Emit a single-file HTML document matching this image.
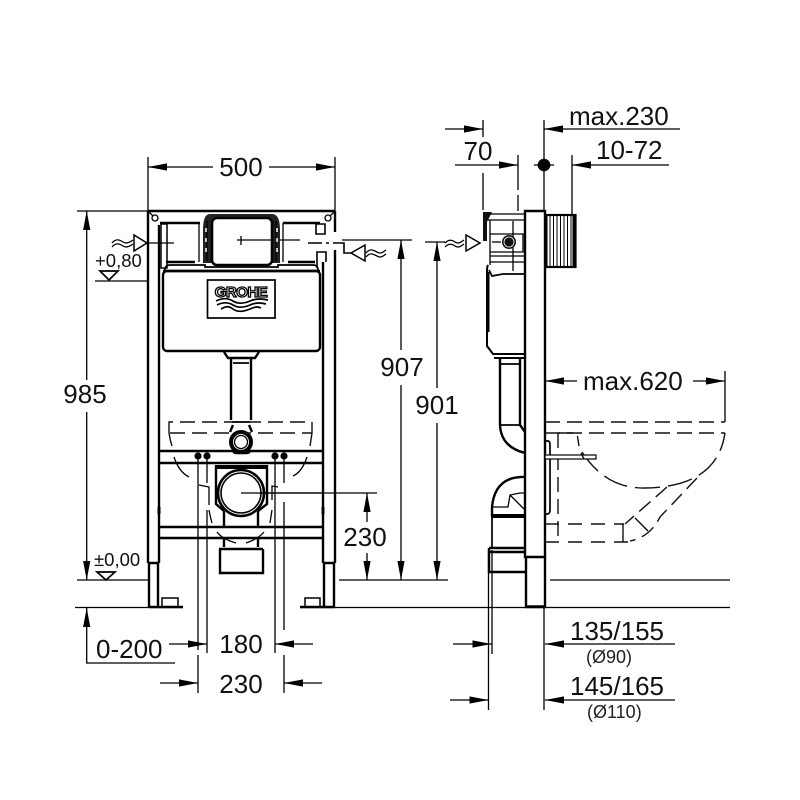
<!DOCTYPE html>
<html><head><meta charset="utf-8"><style>
html,body{margin:0;padding:0;background:#fff;width:800px;height:800px;overflow:hidden}
svg{display:block}
text{font-family:"Liberation Sans",sans-serif;fill:#111}
.t{font-size:26px}.c{text-anchor:middle}
.s{font-size:18.5px}.n{font-size:18px;fill:#222}
.h{stroke:#000;stroke-width:1.3;fill:none}
.b{stroke:#000;stroke-width:2.4;fill:none}
.m{stroke:#000;stroke-width:1.7;fill:none}
.d{stroke:#111;stroke-width:1.4;fill:none;stroke-dasharray:15 7}
</style></head><body>
<svg width="800" height="800" viewBox="0 0 800 800" xmlns="http://www.w3.org/2000/svg">
<defs><marker id="a" markerUnits="userSpaceOnUse" markerWidth="20" markerHeight="8" refX="19" refY="4" orient="auto"><path d="M19,4 L0,0.4 V7.6 Z" fill="#000"/></marker></defs>

<!-- LEFT dims -->
<g class="h">
<path d="M148,157V211M335,157V211M77,211H148M77,580H148M339,580H448M75,607.5H183M300,607.5H730M550,580H730"/>
<line x1="213" y1="167" x2="148" y2="167" marker-end="url(#a)"/><line x1="269" y1="167" x2="335" y2="167" marker-end="url(#a)"/>
<line x1="86.7" y1="380" x2="86.7" y2="211" marker-end="url(#a)"/><line x1="86.7" y1="412" x2="86.7" y2="580" marker-end="url(#a)"/>
<line x1="401" y1="350" x2="401" y2="240" marker-end="url(#a)"/><line x1="401" y1="385" x2="401" y2="580" marker-end="url(#a)"/>
<line x1="437" y1="388" x2="437" y2="242" marker-end="url(#a)"/><line x1="437" y1="423" x2="437" y2="580" marker-end="url(#a)"/>
<path d="M342,240H412M425,242H445M241,493H377"/>
<line x1="367" y1="522" x2="367" y2="493" marker-end="url(#a)"/><line x1="367" y1="553" x2="367" y2="580" marker-end="url(#a)"/>
<path d="M175,663H86.7V640"/><line x1="86.7" y1="640" x2="86.7" y2="608" marker-end="url(#a)"/>
<line x1="169" y1="644" x2="207" y2="644" marker-end="url(#a)"/><line x1="313" y1="644" x2="275" y2="644" marker-end="url(#a)"/>
<line x1="160" y1="683" x2="198" y2="683" marker-end="url(#a)"/><line x1="322" y1="683" x2="284" y2="683" marker-end="url(#a)"/>
<path d="M198,456V650M198,655V693M207,456V483M207,510V653M275,456V653M284,456V483M284,502V630M284,655V693"/>
<path d="M95,281H147M147,243H174M236,240H245M241,236V245M249,240H300"/>
</g>
<text class="t c" x="241" y="176">500</text>
<text class="t c" x="85" y="403">985</text>
<text class="t c" x="402" y="376">907</text>
<text class="t c" x="437" y="414">901</text>
<text class="t c" x="365" y="546">230</text>
<text class="t" x="96" y="658">0-200</text>
<text class="t c" x="241" y="653">180</text>
<text class="t c" x="241" y="693">230</text>
<text class="s" x="95" y="267">+0,80</text>
<text class="s" x="94" y="566">±0,00</text>
<path class="m" d="M100,271H118L109,280Z"/><path class="m" d="M97,572H115L106,580Z"/>
<!-- inlet symbols -->
<path d="M134,235V251L147,243Z" fill="#fff" stroke="#000" stroke-width="1.5"/>
<path d="M365,245V261L351,253Z" fill="#fff" stroke="#000" stroke-width="1.5"/>
<path class="h" d="M112,243c4,-5 8,-3 11,-1c3,2 6,1 10,-2M112,247c4,-5 8,-3 11,-1c3,2 6,1 10,-2M366,253c4,-5 7,-3 11,-1c3,2 5,1 9,-2M366,257c4,-5 7,-3 11,-1c3,2 5,1 9,-2"/>
<path class="b" style="stroke-width:1.6" d="M308,243H322M326,243H329M333,243H344V253H351"/>
<!-- FRAME -->
<g class="b">
<path d="M148,211H335M148,211V563M159,225V563M323,262V563M335,211V232M335,250V563"/>
<path d="M148,563H158V607M149,563V607M323,563H335M324,563V607M334,563V607"/>
<path d="M160,223H200M283,223H320M195,262H166M288,262H315"/>
<path d="M149,607H183M300,607H335" stroke-width="2.6"/>
<rect x="161" y="224" width="6" height="44" stroke-width="1.5"/>
<path d="M316,224h9v10h-9z" stroke-width="1.6"/>
<path d="M317,268V252H326V262" stroke-width="1.6"/>
<path d="M162,598H178V607H162Z" stroke-width="1.5"/><path d="M305,598H320V607H305Z" stroke-width="1.5"/>
</g>
<circle cx="155" cy="218" r="3" class="h"/><circle cx="328" cy="218" r="3" class="h"/>
<path class="h" d="M149,212L153,216M334,212L330,216"/>
<!-- plate -->
<path d="M203,263V230Q203,214 210,214H272Q280,214 280,230V263H272V222H212V263Z" fill="#222"/>
<rect x="212" y="218" width="60" height="47" rx="5" fill="#fff" stroke="#000" stroke-width="2.6"/>
<path class="h" d="M199,223V262M283,223V262M207,221V261M276,221V261"/>
<path d="M206,228v26M277,228v26" stroke="#fff" stroke-width="1.5" stroke-dasharray="4 6"/>
<path class="h" d="M237,240H272M241,236V245"/>
<path class="m" d="M165,270Q165,265 170,265H205V267H278V265H313Q318,265 318,270"/>
<!-- tank -->
<rect x="163" y="271" width="157" height="80" rx="4" class="b" fill="#fff" stroke-width="2.4"/>
<path class="b" d="M163,271H320" stroke-width="2.6"/>
<rect x="207.500" y="280" width="67.500" height="38" class="m"/>
<text x="241" y="297" text-anchor="middle" style="font-family:'Liberation Sans',sans-serif;font-size:15px;font-weight:bold;fill:#fff;stroke:#000;stroke-width:1.3;letter-spacing:-0.5px">GROHE</text>
<path class="m" d="M216,301c6,-3 12,-3 17,0s10,3 17,0s14,-2 18,-1M217,305c6,-3 11,-3 16,0s10,3 17,0s12,-2 16,-1M221,309c5,-3 8,-3 12,0s10,3 17,0s8,-2 11,-1" stroke-width="1.5"/>
<path class="b" d="M224,352L228,358H255L259,352"/>
<!-- pipe -->
<path class="b" d="M231,358V420M251,358V420" stroke-width="2.5"/>
<path class="m" d="M233,363H249M232,422H250"/>
<circle cx="241" cy="442" r="10" fill="#fff" stroke="#000" stroke-width="4"/>
<circle cx="241" cy="442" r="6.500" class="h"/>
<path class="b" d="M233,425L230,432M249,425L252,432M233,452L236,453H247L250,452"/>
<!-- dashed -->
<path class="d" d="M169,433V422H312V433"/><path class="d" d="M170,433H312"/>
<path class="d" d="M169,433Q170,440 172,446"/><path class="d" d="M312,433Q311,440 310,446"/>
<path class="h" d="M174,457Q179,472 189,477M307,457Q302,472 293,476M199,485L209,487V505M278,487L272,486V500M209,510Q210,516 212,523M272,510Q271,516 270,523M217,532Q222,539 236,543M264,532Q258,539 246,543"/>
<!-- bars -->
<path class="b" d="M159,451H323M159,463H323M159,527H323M159,538H323"/>
<g fill="#000"><circle cx="198" cy="456" r="3.600"/><circle cx="207" cy="456" r="3.600"/><circle cx="275" cy="456" r="3.600"/><circle cx="284" cy="456" r="3.600"/></g>
<!-- drain -->
<path class="b" d="M216,465V504L224,511M267,465V504L258,511" stroke-width="2.5"/>
<path d="M216,465H267V469H216Z" fill="#000"/>
<path class="b" d="M224,511V527M258,511V527M224,538V547M258,538V547" stroke-width="1.8"/>
<circle cx="241" cy="493" r="20" fill="#fff" stroke="#000" stroke-width="1.600"/>
<circle cx="241" cy="493" r="23" fill="none" stroke="#000" stroke-width="2.600"/>
<path class="h" d="M241,493H323"/>
<path class="b" d="M219,549H263M220,549V573H263V549" stroke-width="2.4"/>
<path d="M159,507v7M323,507v7" stroke="#000" stroke-width="3"/>

<!-- RIGHT dims -->
<g class="h">
<path d="M483,120V137M483,173V210M544,120V211M572,155V215M518,155V190M518,195V211" />
<line x1="445" y1="129" x2="483" y2="129" marker-end="url(#a)"/>
<line x1="680" y1="129" x2="544" y2="129" marker-end="url(#a)"/>
<line x1="455" y1="165" x2="518" y2="165" marker-end="url(#a)"/>
<line x1="669" y1="165" x2="572" y2="165" marker-end="url(#a)"/>
<path d="M534,165H554"/>
<line x1="577" y1="381" x2="545" y2="381" marker-end="url(#a)"/>
<line x1="693" y1="381" x2="725" y2="381" marker-end="url(#a)"/>
<path d="M725,371V422"/>
<line x1="453" y1="644" x2="491.500" y2="644" marker-end="url(#a)"/>
<line x1="675" y1="644" x2="545" y2="644" marker-end="url(#a)"/>
<line x1="450" y1="700" x2="488.500" y2="700" marker-end="url(#a)"/>
<line x1="675" y1="700" x2="545" y2="700" marker-end="url(#a)"/>
<path d="M488.500,550V710M492,550V654M544,607V710"/>
</g>
<circle cx="544" cy="165" r="6.300" fill="#000"/>
<text class="t" x="569" y="125">max.230</text>
<text class="t" x="596" y="159">10-72</text>
<text class="t c" x="478" y="160">70</text>
<text class="t" x="583" y="390">max.620</text>
<text class="t" x="570" y="640">135/155</text>
<text class="t" x="570" y="695">145/165</text>
<text class="n" x="586" y="663">(Ø90)</text>
<text class="n" x="587" y="718">(Ø110)</text>
<path d="M466,235V251L480,243Z" fill="#fff" stroke="#000" stroke-width="1.5"/>
<path class="h" d="M445,243c4,-4 7,-3 10,-1c3,2 5,1 9,-2M445,247c4,-4 7,-3 10,-1c3,2 5,1 9,-2"/>

<!-- wall -->
<path class="b" d="M525,211H545V557H525Z" fill="#fff" stroke-width="2.6"/>
<path class="b" d="M526,557V607H545V557" stroke-width="2"/>
<path d="M526,606.500H545" stroke="#000" stroke-width="2.500"/>
<!-- tiled box -->
<rect x="546" y="215" width="29.500" height="52" fill="#fff" stroke="#000" stroke-width="2.200"/>
<path d="M550,216V266M553.500,216V266M557,216V266M560.500,216V266M564,216V266M567.500,216V266M571,216V266" stroke="#000" stroke-width="1"/>
<path d="M546,215V267" stroke="#000" stroke-width="3"/>
<path d="M574,215V267" stroke="#000" stroke-width="3"/>
<!-- cistern side -->
<path d="M483,212H492L487,222V241H483Z" fill="#111"/>
<g class="m">
<path d="M490,214H525M488,220H525M490,220V265M513,221V271M490,234H525M490,256H525M490,262H525M513,234V252L523,252V234M490,252H513" stroke-width="1.300"/>
<path d="M488,265Q487,267 487,270V346L493,354H525" stroke-width="2"/>
<path d="M489,270L492,276L503,274H525" stroke-width="1.800"/>
<path d="M488,272V332" stroke-width="3"/>
<path d="M494,358H525" stroke-width="2"/>
</g>
<circle cx="509" cy="242" r="7" fill="#111"/>
<circle cx="509" cy="242" r="5" fill="none" stroke="#fff" stroke-width="0.8"/>
<path class="h" d="M492,242H501"/>
<!-- side pipe -->
<path class="b" d="M500,358V425Q501,447 525,453M520,358V425L525,432" stroke-width="2.200"/>
<path class="m" d="M501,364H520M500,425H520"/>
<path class="b" d="M525,477Q495,476 492,507V516" stroke-width="2.500"/>
<path class="h" d="M493,507H508L510,495L520,493H525M510,495L525,510"/>
<path d="M491,516H525" stroke="#000" stroke-width="4"/>
<path class="m" d="M492,518V548"/>
<path class="b" d="M489,548V572H525M489,548H525M489,552H525" stroke-width="1.900"/>
<path class="m" d="M545,441H548Q550,441 550,445V510Q550,513 548,514H545"/>
<!-- side toilet dashed -->
<path class="d" d="M545,422H725"/>
<path class="d" d="M545,433H725"/>
<path class="d" d="M558,433V542"/>
<path class="d" style="stroke-dasharray:14 9" d="M545,524H624"/>
<path class="d" style="stroke-dasharray:14 9" d="M545,542H630"/>
<path class="d" d="M558,433H577Q578,440 579,446"/>
<path class="d" style="stroke-dasharray:25 8" d="M582,452Q606,489 645,488Q717,487 725,433"/>
<rect x="545" y="455" width="51" height="4" fill="#fff" stroke="#000" stroke-width="1.200"/>
<path class="h" d="M581,453L584,459"/>
<path class="d" d="M667,487L625,524"/>
<path class="d" d="M697,478L660,517Q650,537 630,541"/>
<path class="h" d="M635,518L648,531M623,524V542"/>
</svg>
</body></html>
